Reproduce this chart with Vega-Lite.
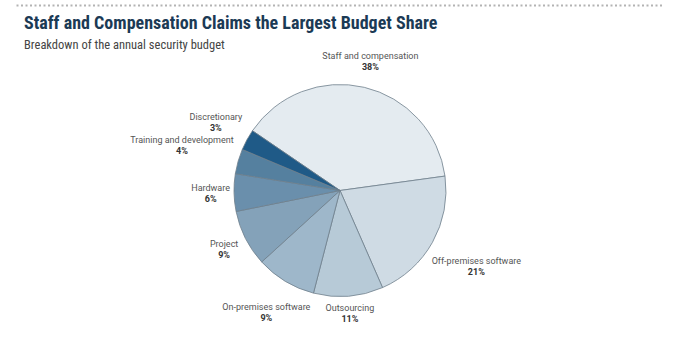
{
  "$schema": "https://vega.github.io/schema/vega-lite/v6.json",
  "width": 692,
  "height": 353,
  "autosize": {"type": "fit", "contains": "padding"},
  "padding": {"top": 5, "left": 16, "right": 28, "bottom": 0},
  "background": "white",
  "title": {
    "text": "Staff and Compensation Claims the Largest Budget Share",
    "subtitle": "Breakdown of the annual security budget",
    "anchor": "start",
    "orient": "top",
    "offset": -46,
    "dx": 8,
    "font": "Roboto Condensed, Liberation Sans Narrow, Roboto, sans-serif",
    "fontSize": 18,
    "fontWeight": "bold",
    "color": "#1b3a55",
    "subtitleFont": "Roboto Condensed, Liberation Sans Narrow, Roboto, sans-serif",
    "subtitleFontSize": 12.5,
    "subtitleColor": "#444444",
    "subtitlePadding": 6
  },
  "config": {"view": {"stroke": null}},
  "data": {
    "values": [
      {"category": "Staff and compensation", "share": 38.3, "label": "38%"},
      {"category": "Off-premises software", "share": 20.6, "label": "21%"},
      {"category": "Outsourcing", "share": 10.6, "label": "11%"},
      {"category": "On-premises software", "share": 9.2, "label": "9%"},
      {"category": "Project", "share": 8.6, "label": "9%"},
      {"category": "Hardware", "share": 5.7, "label": "6%"},
      {"category": "Training and development", "share": 3.8, "label": "4%"},
      {"category": "Discretionary", "share": 3.2, "label": "3%"}
    ]
  },
  "layer": [
    {
      "mark": {"type": "rule", "opacity": 0},
      "encoding": {
        "x": {
          "field": "share",
          "type": "quantitative",
          "axis": {
            "orient": "top",
            "offset": 23,
            "domain": true,
            "domainDash": [2, 2.5],
            "domainColor": "#b3b3b3",
            "domainWidth": 2,
            "ticks": false,
            "labels": false,
            "grid": false,
            "title": null
          }
        }
      }
    },
    {
      "mark": {"type": "arc", "radius": 106, "stroke": "#6f7f8c", "strokeWidth": 0.8},
      "encoding": {
        "theta": {"field": "share", "type": "quantitative", "stack": true, "scale": {"range": [-0.9721, 5.3111]}},
        "order": {"field": "share", "sort": "descending"},
        "color": {
          "field": "category",
          "type": "nominal",
          "scale": {
            "domain": ["Staff and compensation", "Off-premises software", "Outsourcing", "On-premises software", "Project", "Hardware", "Training and development", "Discretionary"],
            "range": ["#e4ebf0", "#cfdbe4", "#b7cad7", "#9eb7ca", "#84a2b9", "#6a8fac", "#55809f", "#1f5a87"]
          },
          "legend": null
        }
      }
    },
    {
      "mark": {
        "type": "text",
        "radius": {"expr": "112 + 2.15*length(datum.category)*abs(sin(scale('theta', 0.5*datum.share_start + 0.5*datum.share_end))) + 10*abs(cos(scale('theta', 0.5*datum.share_start + 0.5*datum.share_end)))"},
        "dy": -5.5,
        "font": "Roboto",
        "fontSize": 9,
        "fill": "#555555",
        "align": "center",
        "baseline": "middle"
      },
      "encoding": {
        "theta": {"field": "share", "type": "quantitative", "stack": true, "scale": {"range": [-0.9721, 5.3111]}},
        "order": {"field": "share", "sort": "descending"},
        "detail": {"field": "category", "type": "nominal"},
        "text": {"field": "category", "type": "nominal"}
      }
    },
    {
      "mark": {
        "type": "text",
        "radius": {"expr": "112 + 2.15*length(datum.category)*abs(sin(scale('theta', 0.5*datum.share_start + 0.5*datum.share_end))) + 10*abs(cos(scale('theta', 0.5*datum.share_start + 0.5*datum.share_end)))"},
        "dy": 5.5,
        "font": "Roboto",
        "fontSize": 9,
        "fontWeight": "bold",
        "fill": "#333333",
        "align": "center",
        "baseline": "middle"
      },
      "encoding": {
        "theta": {"field": "share", "type": "quantitative", "stack": true, "scale": {"range": [-0.9721, 5.3111]}},
        "order": {"field": "share", "sort": "descending"},
        "detail": {"field": "category", "type": "nominal"},
        "text": {"field": "label", "type": "nominal"}
      }
    }
  ]
}
